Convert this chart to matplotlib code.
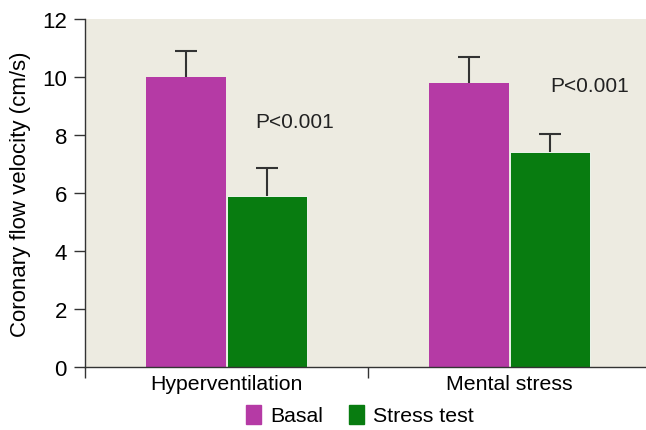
import matplotlib
matplotlib.use('Agg')
import matplotlib.pyplot as plt
from matplotlib.patches import Patch
import numpy as np

plt.rcParams['font.family'] = ['Liberation Sans', 'DejaVu Sans']

groups = ['Hyperventilation', 'Mental stress']
basal = [10.0, 9.8]
basal_err = [0.9, 0.9]
stress = [5.9, 7.4]
stress_err = [0.95, 0.65]
pvals = ['P<0.001', 'P<0.001']
p_pos = [(0.242, 8.45), (1.284, 9.7)]

c_basal = '#b53aa5'
c_stress = '#087c10'
bg = '#edebe1'

fig = plt.figure(figsize=(6.46, 4.31), dpi=100)
ax = fig.add_axes([85/646, 63/431, 561/646, 348/431])
ax.set_facecolor(bg)

x = np.arange(len(groups))
w = 0.283
ax.bar(x - 0.142, basal, w, color=c_basal)
ax.bar(x + 0.142, stress, w, color=c_stress, edgecolor='white', linewidth=0.6)

# only the upper half of the error bars is drawn
for xs, ys, es in [(x - 0.142, basal, basal_err), (x + 0.142, stress, stress_err)]:
    eb = ax.errorbar(xs, ys, yerr=[[0]*len(ys), es], fmt='none', ecolor='#333333',
                     elinewidth=1.5, capsize=8, capthick=1.5)
    eb[1][0].set_visible(False)

for t, (px, py) in zip(pvals, p_pos):
    ax.text(px, py, t, fontsize=15, ha='center', va='center', color='#222222')

ax.set_xlim(-0.5, -0.5 + 561/283)
ax.set_ylim(0, 12)
ax.set_yticks(range(0, 13, 2))
ax.set_xticks([-0.5, 0.5])
ax.set_xticklabels([])
ax.set_xticks(x, minor=True)
ax.set_xticklabels(groups, minor=True)
ax.tick_params(axis='x', which='minor', length=0, labelsize=15.3, pad=5)
ax.tick_params(axis='x', which='major', length=8, width=1, color='#333333')
ax.tick_params(axis='y', length=8, width=1, color='#333333', labelsize=16, pad=5)
ax.set_ylabel('Coronary flow velocity (cm/s)', fontsize=16)
ax.yaxis.set_label_coords((31 - 85) / 561, 0.5)

for s in ['top', 'right']:
    ax.spines[s].set_visible(False)
for s in ['left', 'bottom']:
    ax.spines[s].set_color('#333333')
    ax.spines[s].set_linewidth(1)

handles = [Patch(color=c_basal, label='Basal'), Patch(color=c_stress, label='Stress test')]
fig.legend(handles=handles, loc='center', bbox_to_anchor=(360/646, 15/431), ncol=2,
           frameon=False, fontsize=15.3, handlelength=0.7, handleheight=1.0,
           handletextpad=0.45, columnspacing=1.2)

plt.savefig('out.png', dpi=100)
